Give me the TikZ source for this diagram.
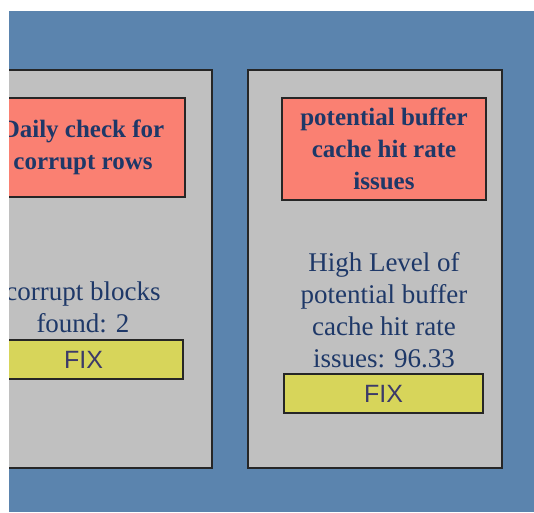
\documentclass[tikz,border=0pt]{standalone}
\usepackage{fontspec}
\setmainfont{Liberation Serif}
\newfontfamily\fixfont{Liberation Sans}
\usepackage{xcolor}
\usepackage{tikz}
\definecolor{fundo}{RGB}{91,132,174}
\definecolor{painel}{RGB}{192,192,192}
\definecolor{salmao}{RGB}{250,128,114}
\definecolor{amarelo}{RGB}{215,213,90}
\definecolor{textoazul}{RGB}{30,56,104}
\definecolor{textofix}{RGB}{60,58,105}
\tikzset{
    painelbox/.style={
        rectangle,
        draw=black!85,
        line width=1.5pt,
        fill=painel,
        minimum width=254pt,
        minimum height=398pt
    },
    titulo/.style={
        rectangle,
        draw=black!85,
        line width=1.5pt,
        fill=salmao,
        align=center,
        minimum width=204pt,
        text=textoazul,
        font=\fontsize{25}{32}\selectfont\bfseries
    },
    corpo/.style={
        align=center,
        text=textoazul,
        font=\fontsize{27}{32}\selectfont
    },
    botaofix/.style={
        rectangle,
        draw=black!85,
        line width=1.5pt,
        fill=amarelo,
        minimum width=199pt,
        minimum height=39pt,
        text=textofix,
        font=\fixfont\fontsize{25}{28}\selectfont
    }
}

\begin{document}
\begin{tikzpicture}[x=1pt,y=-1pt]

    \useasboundingbox (0,0) rectangle (534,512);
    \fill[fundo] (9,11) rectangle (534,512);

    \begin{scope}
        \clip (9,11) rectangle (534,512);

        % painel esquerdo (cortado)
        \node[painelbox] (painelA) at (85,269) {};
        \node[titulo, minimum height=99pt] (tituloA) at (83,147.5)
        {Daily check for\\corrupt rows};
        \node[corpo] (corpoA) at (83,307.5)
        {corrupt blocks\\found: 2};
        \node[botaofix] (fixA) at (83.5,359.5) {FIX};

        % painel direito
        \node[painelbox] (painelB) at (375,269) {};
        \node[titulo, minimum height=102pt] (tituloB) at (384,149)
        {potential buffer\\cache hit rate\\issues};
        \node[corpo] (corpoB) at (384,310)
        {High Level of\\potential buffer\\cache hit rate\\issues: 96.33};
        \node[botaofix] (fixB) at (383.5,393.5) {FIX};
    \end{scope}

\end{tikzpicture}
\end{document}
